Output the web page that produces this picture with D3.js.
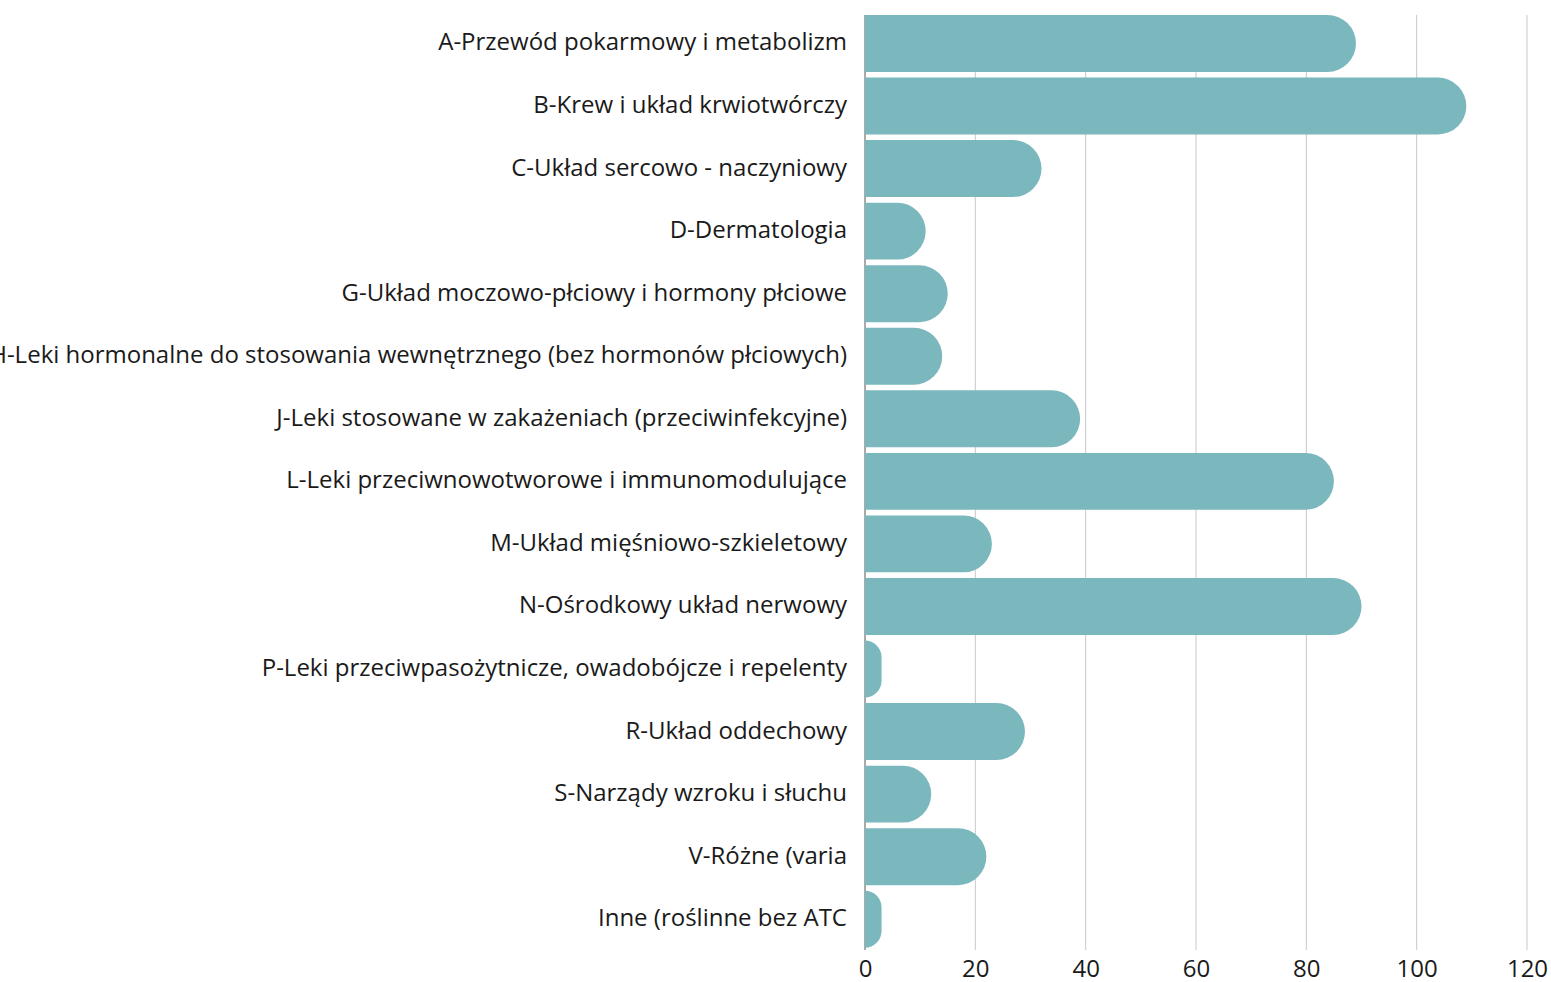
<!DOCTYPE html>
<html><head><meta charset="utf-8">
<script src="https://cdn.jsdelivr.net/npm/d3@7"></script>
<style>
html,body{margin:0;padding:0;background:#fff;}
svg text{font-family:"Open Sans",sans-serif;fill:#1a1a1a;}
</style></head>
<body><svg id="c" width="1551" height="982"></svg>
<script>
const categories = [
  "A-Przewód pokarmowy i metabolizm",
  "B-Krew i układ krwiotwórczy",
  "C-Układ sercowo - naczyniowy",
  "D-Dermatologia",
  "G-Układ moczowo-płciowy i hormony płciowe",
  "H-Leki hormonalne do stosowania wewnętrznego (bez hormonów płciowych)",
  "J-Leki stosowane w zakażeniach (przeciwinfekcyjne)",
  "L-Leki przeciwnowotworowe i immunomodulujące",
  "M-Układ mięśniowo-szkieletowy",
  "N-Ośrodkowy układ nerwowy",
  "P-Leki przeciwpasożytnicze, owadobójcze i repelenty",
  "R-Układ oddechowy",
  "S-Narządy wzroku i słuchu",
  "V-Różne (varia",
  "Inne (roślinne bez ATC"
];
const values = [89, 109, 32, 11, 15, 14, 39, 85, 23, 90, 3, 29, 12, 22, 3];
const xTicks = [0, 20, 40, 60, 80, 100, 120];

const svg = d3.select("#c");
const x = d3.scaleLinear().domain([0, 120]).range([865, 1527]);
const y = d3.scaleBand().domain(categories).range([12.2, 950.5]).paddingInner(0.09).paddingOuter(0.045);

// grid
svg.append("g").selectAll("line").data(xTicks.filter(d => d > 0)).join("line")
  .attr("x1", d => x(d)).attr("x2", d => x(d))
  .attr("y1", 15).attr("y2", 950)
  .attr("stroke", "#c8c8c8").attr("stroke-width", 1);

// zero line
svg.append("line").attr("x1", x(0)).attr("x2", x(0)).attr("y1", 15).attr("y2", 950)
  .attr("stroke", "#555").attr("stroke-width", 1);

// bars
const data = categories.map((c, i) => ({c, v: values[i]}));
svg.append("g").selectAll("path").data(data).join("path")
  .attr("fill", "#7bb8be")
  .attr("d", d => {
    const x0 = x(0), x1 = x(d.v), y0 = y(d.c), h = y.bandwidth();
    const w = x1 - x0;
    const r = Math.min(h / 2, w);
    const p = d3.path();
    p.moveTo(x0, y0);
    p.lineTo(x1 - r, y0);
    p.arcTo(x1, y0, x1, y0 + r, r);
    p.lineTo(x1, y0 + h - r);
    p.arcTo(x1, y0 + h, x1 - r, y0 + h, r);
    p.lineTo(x0, y0 + h);
    p.closePath();
    return p.toString();
  });

// category labels
svg.append("g").selectAll("text").data(categories).join("text")
  .attr("x", 847).attr("y", d => y(d) + y.bandwidth() / 2 - 2.5)
  .attr("text-anchor", "end").attr("dominant-baseline", "central")
  .attr("font-size", 24).text(d => d);

// x axis labels
const xAxis = d3.axisBottom(x).tickValues(xTicks).tickSize(0).tickPadding(8);
const ga = svg.append("g").attr("transform", "translate(0,952)").call(xAxis);
ga.select(".domain").remove();
ga.selectAll("text").attr("font-size", 24).attr("font-family", "'Open Sans',sans-serif").attr("fill", "#1a1a1a");
</script></body></html>
